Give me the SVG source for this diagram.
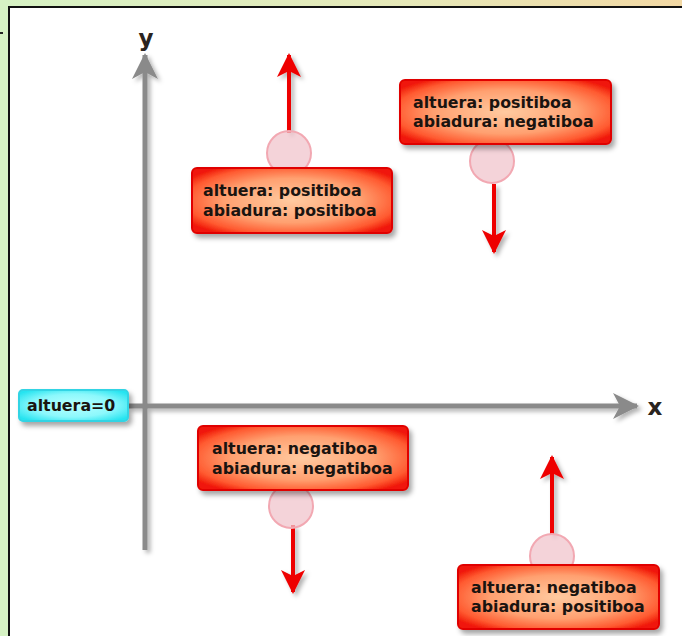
<svg xmlns="http://www.w3.org/2000/svg" width="682" height="636" viewBox="0 0 682 636">
  <defs>
    <linearGradient id="bg" x1="0" y1="0" x2="1" y2="0">
      <stop offset="0" stop-color="#d6f2c4"/>
      <stop offset="0.6" stop-color="#e6e8b8"/>
      <stop offset="1" stop-color="#f2d8a4"/>
    </linearGradient>
    <radialGradient id="redfill" cx="0.5" cy="0.5" r="0.62">
      <stop offset="0" stop-color="#ffcaa0"/>
      <stop offset="0.55" stop-color="#ffa070"/>
      <stop offset="0.85" stop-color="#ff5a30"/>
      <stop offset="1" stop-color="#f01808"/>
    </radialGradient>
    <radialGradient id="cyanfill" cx="0.5" cy="0.5" r="0.62">
      <stop offset="0" stop-color="#b8ffff"/>
      <stop offset="0.6" stop-color="#8cf8fc"/>
      <stop offset="1" stop-color="#28e4f0"/>
    </radialGradient>
    <filter id="shadow" x="-20%" y="-20%" width="150%" height="160%">
      <feDropShadow dx="3" dy="4" stdDeviation="2.5" flood-color="#000" flood-opacity="0.35"/>
    </filter>
    <filter id="ashadow" filterUnits="userSpaceOnUse" x="0" y="0" width="682" height="636">
      <feDropShadow dx="3" dy="3" stdDeviation="2" flood-color="#000" flood-opacity="0.3"/>
    </filter>
    <marker id="redhead" viewBox="0 0 24 24" markerWidth="24" markerHeight="24" refX="22" refY="12" markerUnits="userSpaceOnUse" orient="auto">
      <path d="M0,0 L24,12 L0,24 L6,12 Z" fill="#ee0000"/>
    </marker>
    <marker id="grayhead" viewBox="0 0 26 26" markerWidth="26" markerHeight="26" refX="24" refY="13" markerUnits="userSpaceOnUse" orient="auto">
      <path d="M0,0 L26,13 L0,26 L7,13 Z" fill="#8a8a8a"/>
    </marker>
  </defs>
  <style>
    .box { fill: url(#redfill); stroke: #e00000; stroke-width: 2; filter: url(#shadow); }
    .cyan { fill: url(#cyanfill); stroke: #30d4e4; stroke-width: 2; filter: url(#shadow); }
    .lbl { font-family: "DejaVu Sans", Verdana, sans-serif; font-weight: bold; font-size: 15.8px; fill: #1a1410; }
    .axlbl { font-family: "DejaVu Sans", Verdana, sans-serif; font-weight: bold; font-size: 23px; fill: #2a2420; }
    .dot { fill: #f0c4cc; fill-opacity: 0.75; stroke: #f2a8b2; stroke-width: 2; }
    .axis { stroke: #8a8a8a; stroke-width: 5; fill: none; }
    .vec { stroke: #ee0000; stroke-width: 4; fill: none; }
    .sh { filter: url(#ashadow); }
  </style>

  <rect x="0" y="0" width="682" height="636" fill="url(#bg)"/>
  <rect x="0" y="0" width="9" height="636" fill="#d6f2c4"/>
  <rect x="0" y="32" width="3" height="2" fill="#222"/>
  <rect x="9" y="7" width="680" height="640" fill="#ffffff" stroke="#111" stroke-width="2"/>

  <g id="connectors">
    <g class="sh">
      <line class="axis" x1="145" y1="550" x2="145" y2="55" marker-end="url(#grayhead)"/>
      <line class="axis" x1="128" y1="406" x2="637" y2="406" marker-end="url(#grayhead)"/>
      <line class="vec" x1="289" y1="133" x2="289" y2="55" marker-end="url(#redhead)"/>
      <line class="vec" x1="494" y1="184" x2="494" y2="252" marker-end="url(#redhead)"/>
      <line class="vec" x1="293" y1="525" x2="293" y2="592" marker-end="url(#redhead)"/>
      <line class="vec" x1="552" y1="535" x2="552" y2="457" marker-end="url(#redhead)"/>
    </g>
  </g>

  <text class="axlbl" x="146" y="46" text-anchor="middle">y</text>
  <text class="axlbl" x="655" y="415" text-anchor="middle">x</text>

  <g id="zero">
    <rect class="cyan" x="19" y="390" width="109" height="31" rx="4"/>
    <text class="lbl" x="27" y="411">altuera=0</text>
  </g>

  <g id="pp">
    <circle class="dot" cx="289" cy="153" r="22"/>
    <rect class="box" x="192" y="168" width="200" height="65" rx="5"/>
    <text class="lbl" x="203" y="196">altuera: positiboa</text>
    <text class="lbl" x="203" y="216">abiadura: positiboa</text>
  </g>

  <g id="pn">
    <circle class="dot" cx="492" cy="161" r="22"/>
    <rect class="box" x="400" y="80" width="211" height="64" rx="5"/>
    <text class="lbl" x="413" y="108">altuera: positiboa</text>
    <text class="lbl" x="413" y="127">abiadura: negatiboa</text>
  </g>

  <g id="nn">
    <circle class="dot" cx="291" cy="506" r="22"/>
    <rect class="box" x="198" y="426" width="210" height="64" rx="5"/>
    <text class="lbl" x="212" y="454">altuera: negatiboa</text>
    <text class="lbl" x="212" y="474">abiadura: negatiboa</text>
  </g>

  <g id="np">
    <circle class="dot" cx="552" cy="556" r="22"/>
    <rect class="box" x="458" y="565" width="201" height="64" rx="5"/>
    <text class="lbl" x="471" y="593">altuera: negatiboa</text>
    <text class="lbl" x="471" y="612">abiadura: positiboa</text>
  </g>
</svg>
